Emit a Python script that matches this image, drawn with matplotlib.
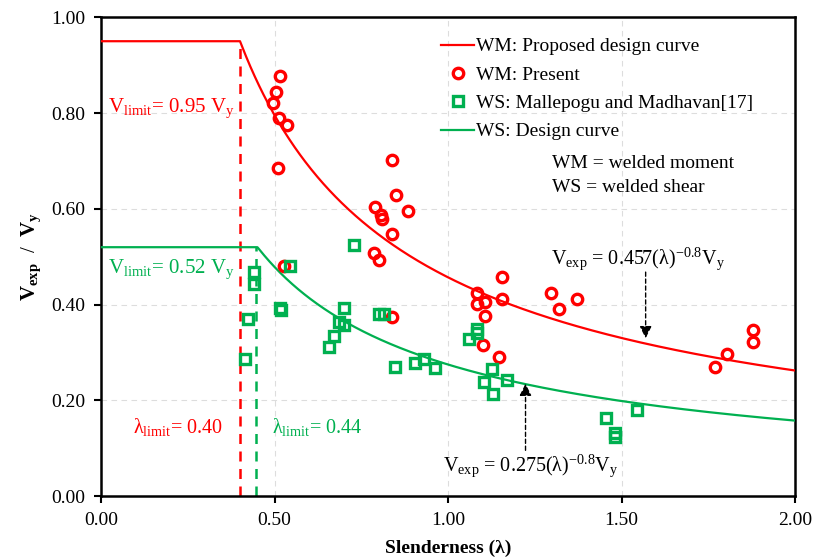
import numpy as np
import matplotlib
matplotlib.use("Agg")
import matplotlib.pyplot as plt

plt.rcParams['font.family'] = ['Liberation Serif', 'DejaVu Serif']
plt.rcParams['mathtext.fontset'] = 'custom'
plt.rcParams['mathtext.rm'] = 'Liberation Serif'
plt.rcParams['mathtext.it'] = 'Liberation Serif:italic'
plt.rcParams['mathtext.bf'] = 'Liberation Serif:bold'

RED = '#FF0000'
GREEN = '#00B050'

# design curves: V/Vy = a * lambda^-0.8, capped at the limit
wm_coef, wm_limit, wm_lam = 0.457, 0.95, 0.40
ws_coef, ws_limit, ws_lam = 0.275, 0.52, 0.44
curve_exp = -0.8

# WM: Present (red circles)
wm_x = [0.515, 0.505, 0.497, 0.512, 0.537, 0.509, 0.526, 0.837, 0.849, 0.885,
        0.790, 0.808, 0.810, 0.839, 0.786, 0.800, 0.837, 1.083, 1.156, 1.083,
        1.107, 1.156, 1.107, 1.100, 1.148, 1.295, 1.320, 1.372, 1.768, 1.804,
        1.879, 1.879]
wm_y = [0.877, 0.844, 0.822, 0.789, 0.775, 0.685, 0.480, 0.701, 0.628, 0.596,
        0.603, 0.588, 0.578, 0.547, 0.508, 0.494, 0.374, 0.424, 0.458, 0.402,
        0.406, 0.411, 0.376, 0.315, 0.291, 0.424, 0.390, 0.411, 0.269, 0.298,
        0.347, 0.322]

# WS: Mallepogu and Madhavan[17] (green squares)
ws_x = [0.728, 0.546, 0.440, 0.440, 0.517, 0.520, 0.425, 0.416, 0.699, 0.685,
        0.699, 0.670, 0.656, 0.800, 0.815, 0.848, 1.083, 1.083, 1.060, 0.906,
        0.930, 0.963, 1.127, 1.103, 1.170, 1.128, 1.456, 1.480, 1.480, 1.545]
ws_y = [0.524, 0.480, 0.468, 0.444, 0.394, 0.388, 0.371, 0.287, 0.394, 0.364,
        0.357, 0.334, 0.312, 0.381, 0.380, 0.270, 0.350, 0.340, 0.329, 0.278,
        0.286, 0.268, 0.266, 0.239, 0.242, 0.213, 0.163, 0.132, 0.124, 0.181]

fig = plt.figure(figsize=(8.14, 5.57), dpi=100)
ax = fig.add_axes([0.124, 0.109, 0.853, 0.860])

lam = np.linspace(0.0001, 2.0, 800)
wm_curve = np.minimum(wm_coef * lam ** curve_exp, wm_limit)
ws_curve = np.minimum(ws_coef * lam ** curve_exp, ws_limit)

ax.plot(lam, wm_curve, color=RED, lw=1.6, label='WM: Proposed design curve', zorder=3)
ax.plot(wm_x, wm_y, 'o', ms=7.5, mfc='none', mec=RED, mew=2.4, label='WM: Present', zorder=4)
ax.plot(ws_x, ws_y, 's', ms=7.5, mfc='none', mec=GREEN, mew=2.4,
        label='WS: Mallepogu and Madhavan[17]', zorder=4)
ax.plot(lam, ws_curve, color=GREEN, lw=1.6, label='WS: Design curve', zorder=3)

# limit lines
ax.plot([wm_lam, wm_lam], [0, wm_limit], color=RED, lw=1.8, ls=(0, (4, 3)), zorder=2)
ax.plot([ws_lam + 0.007, ws_lam + 0.007], [0, ws_limit], color=GREEN, lw=1.8,
        ls=(0, (4, 3)), zorder=2)

ax.set_xlim(0, 2)
ax.set_ylim(0, 1)
ax.set_xticks(np.arange(0, 2.01, 0.5))
ax.set_yticks(np.arange(0, 1.01, 0.2))
ax.xaxis.set_major_formatter(matplotlib.ticker.FormatStrFormatter('%.2f'))
ax.yaxis.set_major_formatter(matplotlib.ticker.FormatStrFormatter('%.2f'))
ax.tick_params(direction='out', length=5, width=1.5, labelsize=14, color='black', pad=6)
ax.grid(True, color='#dddddd', ls=(0, (5, 4)), lw=0.8)
ax.set_axisbelow(True)
for s in ax.spines.values():
    s.set_linewidth(1.8)

ax.set_xlabel('Slenderness (λ)', fontsize=14, fontweight='bold', labelpad=8)
ax.set_ylabel(r'$\mathbf{V_{exp}}$  /  $\mathbf{V_y}$', fontsize=15, labelpad=6)

ax.text(0.02, 0.81, r'V$_{\mathrm{limit}}$= 0.95 V$_{\mathrm{y}}$', color=RED, fontsize=15,
        va='center')
ax.text(0.02, 0.475, r'V$_{\mathrm{limit}}$= 0.52 V$_{\mathrm{y}}$', color=GREEN, fontsize=15,
        va='center')
ax.text(0.092, 0.145, r'λ$_{\mathrm{limit}}$= 0.40', color=RED, fontsize=14.5, va='center')
ax.text(0.492, 0.145, r'λ$_{\mathrm{limit}}$= 0.44', color=GREEN, fontsize=14.5, va='center')

ax.text(1.30, 0.694, 'WM = welded moment', fontsize=14, va='center')
ax.text(1.30, 0.644, 'WS = welded shear', fontsize=14, va='center')

ax.text(1.297, 0.497, r'V$_{\mathrm{exp}}$ = 0.457(λ)$^{\mathrm{-0.8}}$V$_{\mathrm{y}}$',
        fontsize=14.5, va='center')
ax.text(0.985, 0.063, r'V$_{\mathrm{exp}}$ = 0.275(λ)$^{\mathrm{-0.8}}$V$_{\mathrm{y}}$',
        fontsize=14.5, va='center')

ax.annotate('', xy=(1.569, 0.33), xytext=(1.569, 0.468),
            arrowprops=dict(arrowstyle='-|>', ls=(0, (3, 2)), color='black', lw=1.0,
                            mutation_scale=18, shrinkA=0, shrinkB=0))
ax.annotate('', xy=(1.223, 0.235), xytext=(1.223, 0.096),
            arrowprops=dict(arrowstyle='-|>', ls=(0, (3, 2)), color='black', lw=1.0,
                            mutation_scale=18, shrinkA=0, shrinkB=0))

ax.legend(loc='upper left', bbox_to_anchor=(0.49, 0.957), frameon=False, fontsize=14,
          handlelength=1.7, handletextpad=0.1, labelspacing=0.55,
          borderpad=0, borderaxespad=0)

fig.savefig('out.png', dpi=100)
